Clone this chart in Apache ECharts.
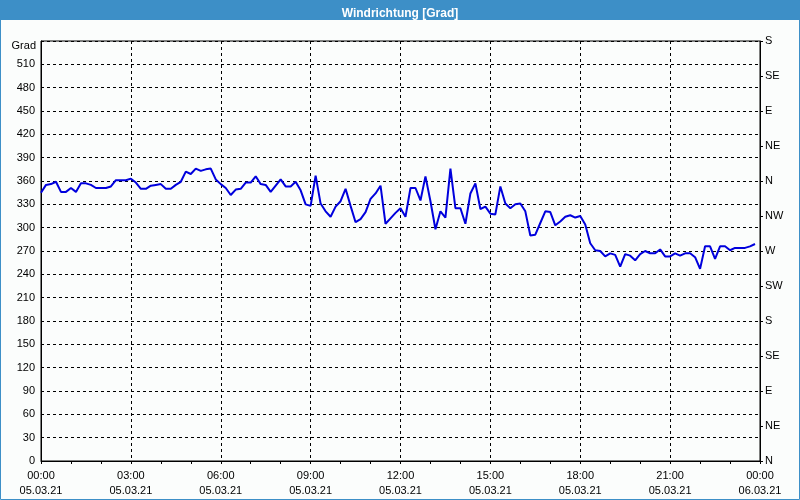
<!DOCTYPE html>
<html>
<head>
<meta charset="utf-8">
<script src="https://cdn.jsdelivr.net/npm/echarts@6/dist/echarts.min.js"></script>
<style>
html,body{margin:0;padding:0;background:#fbfdfc;}
#chart{width:800px;height:500px;}
</style>
</head>
<body>
<div id="chart"></div>
<script>
// Wind direction in degrees, 10-minute readings from 05.03.21 00:00
var stepMinutes = 10;
var windDirection = [
  345,355,356,359,346,346,351,346,357,357,
  355,351,351,351,353,361,361,361,363,358,
  350,350,354,355,356,350,350,355,359,372,
  369,376,373,375,376,362,356,351,342,349,
  350,358,358,366,356,355,346,354,362,353,
  353,359,348,330,328,367,331,321,314,327,
  334,350,328,307,311,320,337,344,354,305,
  312,319,325,314,351,351,335,366,334,298,
  321,313,376,325,325,305,344,357,324,327,
  318,317,353,331,325,330,331,321,290,291,
  306,321,320,303,308,314,316,313,315,304,
  280,271,270,263,267,265,250,266,264,258,
  266,270,267,267,272,263,263,267,264,267,
  267,262,247,276,276,260,276,276,271,274,
  274,274,276,279
];
var xTickTimes = ['00:00','03:00','06:00','09:00','12:00','15:00','18:00','21:00','00:00'];
var xTickDates = ['05.03.21','05.03.21','05.03.21','05.03.21','05.03.21','05.03.21','05.03.21','05.03.21','06.03.21'];
var compassLabels = ['N','NE','E','SE','S','SW','W','NW','N','NE','E','SE','S'];
var titleText = 'Windrichtung [Grad]';
var yName = 'Grad';

var seriesData = windDirection.map(function (v, i) { return [i * stepMinutes, v]; });

var chart = echarts.init(document.getElementById('chart'), null, {renderer: 'canvas'});
var fontFam = '"Liberation Sans", Arial, sans-serif';
chart.setOption({
  backgroundColor: '#fbfdfc',
  animation: false,
  graphic: [
    {type: 'rect', shape: {x: 0, y: 0, width: 800, height: 20}, style: {fill: '#3d8fc7'}, z: -1},
    {type: 'rect', shape: {x: 0.5, y: 0.5, width: 799, height: 499}, style: {fill: null, stroke: '#3d8fc7', lineWidth: 1}, z: 10}
  ],
  title: {
    text: titleText,
    left: 'center',
    top: 3,
    textStyle: {color: '#ffffff', fontSize: 12, fontWeight: 'bold', fontFamily: '"Liberation Sans Narrow", "Liberation Sans", sans-serif'}
  },
  grid: {left: 41, right: 40, top: 41, bottom: 39, show: true, borderColor: '#000', borderWidth: 1, backgroundColor: 'transparent'},
  xAxis: {
    type: 'value', min: 0, max: 1440, interval: 180,
    axisLine: {lineStyle: {color: '#000', width: 1}},
    axisTick: {show: true, length: 3, lineStyle: {color: '#000'}},
    minorTick: {show: true, splitNumber: 3, length: 3, lineStyle: {color: '#000'}},
    splitLine: {show: true, lineStyle: {color: '#000', type: [3, 3], width: 1}},
    axisLabel: {
      margin: 7, color: '#000', fontSize: 11, fontFamily: fontFam, lineHeight: 15,
      formatter: function (v) { var k = Math.round(v / 180); return xTickTimes[k] + '\n' + xTickDates[k]; }
    }
  },
  yAxis: [
    {
      type: 'value', min: 0, max: 540, interval: 30, position: 'left',
      name: yName, nameLocation: 'end', nameGap: -5,
      nameTextStyle: {align: 'right', verticalAlign: 'middle', padding: [2, 5, 0, 0], color: '#000', fontSize: 11, fontFamily: fontFam},
      axisLine: {show: true, lineStyle: {color: '#000'}},
      axisTick: {show: false},
      splitLine: {show: true, lineStyle: {color: '#000', type: [3, 3], width: 1}},
      axisLabel: {margin: 6, color: '#000', fontSize: 11, fontFamily: fontFam, showMaxLabel: false, padding: [3, 0, 0, 0]}
    },
    {
      type: 'value', min: 0, max: 540, interval: 45, position: 'right',
      axisLine: {show: true, lineStyle: {color: '#000'}},
      axisTick: {show: true, length: 3, lineStyle: {color: '#000'}},
      splitLine: {show: false},
      axisLabel: {margin: 5, color: '#000', fontSize: 11, fontFamily: fontFam, padding: [3, 0, 0, 0],
        formatter: function (v) { return compassLabels[Math.round(v / 45)]; }}
    }
  ],
  series: [{
    type: 'line', data: seriesData, yAxisIndex: 0, showSymbol: false, symbol: 'none',
    lineStyle: {color: '#0000dd', width: 2}
  }]
});
</script>
</body>
</html>
